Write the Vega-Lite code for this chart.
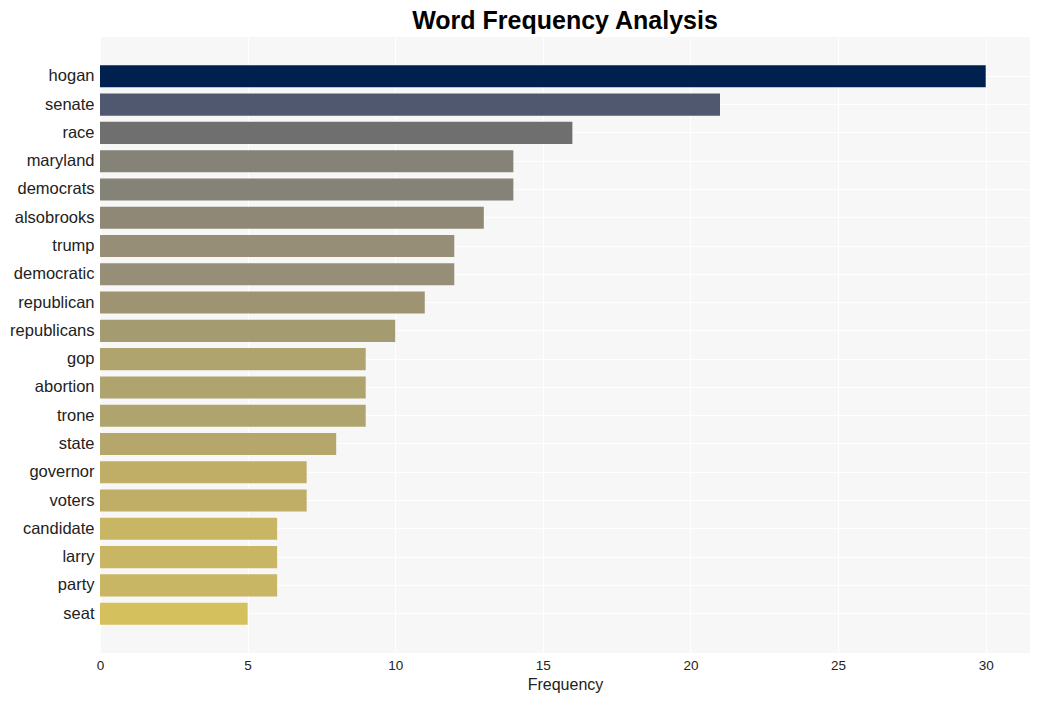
{
  "$schema": "https://vega.github.io/schema/vega-lite/v6.json",
  "autosize": "none",
  "padding": {"left": 100, "top": 37, "right": 9, "bottom": 48},
  "width": 930,
  "height": 616,
  "background": "white",
  "title": {
    "text": "Word Frequency Analysis",
    "font": "Liberation Sans",
    "fontSize": 25,
    "fontWeight": "bold",
    "color": "#000000",
    "anchor": "middle",
    "offset": 3
  },
  "config": {
    "view": {"fill": "#f7f7f7", "stroke": null},
    "axis": {
      "labelFont": "Liberation Sans",
      "titleFont": "Liberation Sans",
      "labelColor": "#222222",
      "titleColor": "#222222",
      "domain": false,
      "ticks": false,
      "grid": true,
      "gridColor": "#ffffff",
      "gridWidth": 1,
      "gridOpacity": 1
    }
  },
  "data": {
    "values": [
      {"word": "hogan", "frequency": 30},
      {"word": "senate", "frequency": 21},
      {"word": "race", "frequency": 16},
      {"word": "maryland", "frequency": 14},
      {"word": "democrats", "frequency": 14},
      {"word": "alsobrooks", "frequency": 13},
      {"word": "trump", "frequency": 12},
      {"word": "democratic", "frequency": 12},
      {"word": "republican", "frequency": 11},
      {"word": "republicans", "frequency": 10},
      {"word": "gop", "frequency": 9},
      {"word": "abortion", "frequency": 9},
      {"word": "trone", "frequency": 9},
      {"word": "state", "frequency": 8},
      {"word": "governor", "frequency": 7},
      {"word": "voters", "frequency": 7},
      {"word": "candidate", "frequency": 6},
      {"word": "larry", "frequency": 6},
      {"word": "party", "frequency": 6},
      {"word": "seat", "frequency": 5}
    ]
  },
  "mark": {"type": "bar"},
  "encoding": {
    "y": {
      "field": "word",
      "type": "nominal",
      "sort": null,
      "scale": {"paddingInner": 0.22, "paddingOuter": 1.0},
      "axis": {
        "title": null,
        "labelFontSize": 16.5,
        "labelPadding": 6,
        "bandPosition": 0.5
      }
    },
    "x": {
      "field": "frequency",
      "type": "quantitative",
      "scale": {"domain": [0, 31.5], "nice": false, "zero": true},
      "axis": {
        "title": "Frequency",
        "titleFontSize": 16,
        "titleFontWeight": "normal",
        "labelFontSize": 13.5,
        "labelPadding": 5,
        "titlePadding": 5,
        "values": [0, 5, 10, 15, 20, 25, 30],
        "labelFlush": false
      }
    },
    "color": {
      "field": "word",
      "type": "nominal",
      "legend": null,
      "scale": {
        "domain": ["hogan", "senate", "race", "maryland", "democrats", "alsobrooks", "trump", "democratic", "republican", "republicans", "gop", "abortion", "trone", "state", "governor", "voters", "candidate", "larry", "party", "seat"],
        "range": ["#00204f", "#4f586e", "#6f6f70", "#858278", "#858278", "#8f8876", "#968e76", "#968e76", "#9e9472", "#a59b71", "#b0a46e", "#b0a46e", "#b0a46e", "#b5a66c", "#c0ae67", "#c0ae67", "#c8b664", "#c8b664", "#c8b664", "#d4c15e"]
      }
    }
  }
}
